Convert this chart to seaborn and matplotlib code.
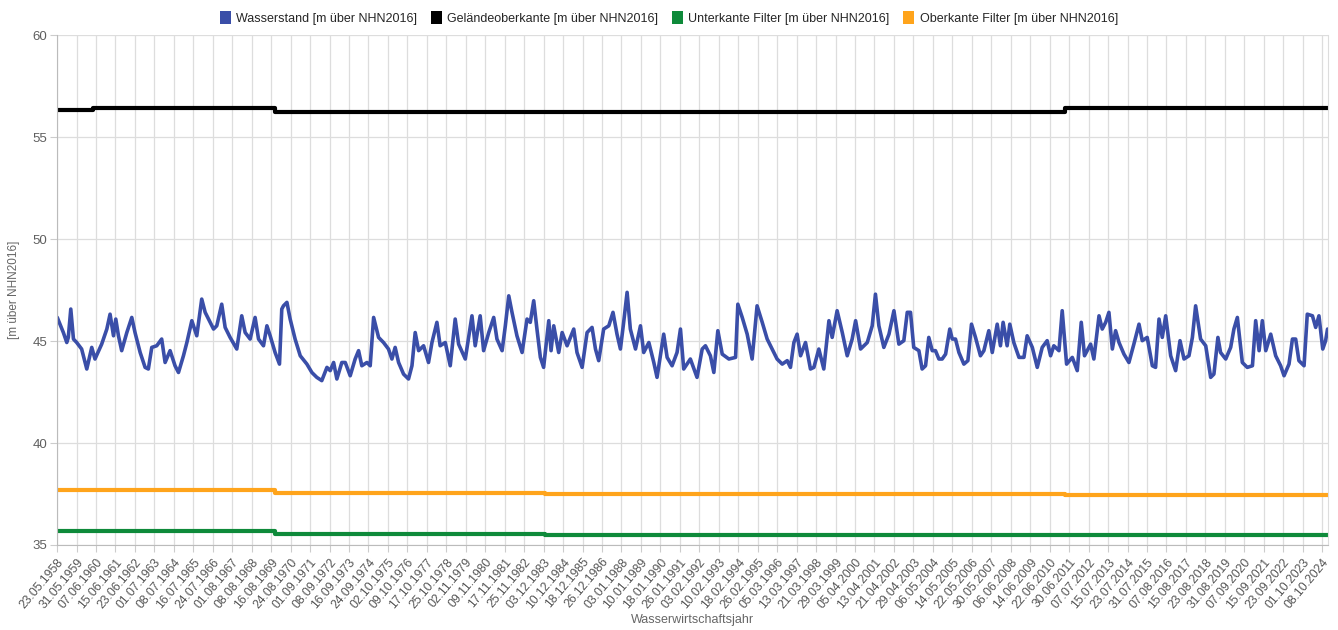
import matplotlib.pyplot as plt
from matplotlib.patches import Patch
import seaborn as sns
import pandas as pd
import numpy as np

# Wasserstand (decimal year, m über NHN2016)
level_years = [
    1958.40, 1958.72, 1958.90, 1958.98, 1959.11, 1959.25, 1959.42, 1959.68, 1959.95, 1960.21,
    1960.38, 1960.73, 1961.00, 1961.17, 1961.35, 1961.47, 1961.61, 1961.78, 1962.05, 1962.31,
    1962.48, 1962.75, 1963.01, 1963.18, 1963.36, 1963.62, 1963.88, 1964.06, 1964.32, 1964.58,
    1964.76, 1965.02, 1965.20, 1965.46, 1965.72, 1965.98, 1966.16, 1966.42, 1966.60, 1966.77,
    1967.03, 1967.21, 1967.47, 1967.82, 1968.08, 1968.26, 1968.52, 1968.78, 1968.96, 1969.22,
    1969.40, 1969.57, 1969.83, 1970.06, 1970.18, 1970.27, 1970.45, 1970.62, 1970.88, 1971.15,
    1971.50, 1971.76, 1972.02, 1972.28, 1972.55, 1972.72, 1972.90, 1973.07, 1973.33, 1973.51,
    1973.77, 1974.03, 1974.21, 1974.38, 1974.65, 1974.82, 1975.00, 1975.26, 1975.52, 1975.78,
    1975.96, 1976.13, 1976.31, 1976.57, 1976.83, 1977.01, 1977.18, 1977.36, 1977.62, 1977.88,
    1978.06, 1978.32, 1978.49, 1978.76, 1979.02, 1979.28, 1979.46, 1979.81, 1980.16, 1980.33,
    1980.59, 1980.77, 1981.04, 1981.30, 1981.47, 1981.74, 1981.91, 1982.09, 1982.26, 1982.52,
    1982.79, 1983.05, 1983.22, 1983.40, 1983.57, 1983.75, 1983.92, 1984.19, 1984.31, 1984.45,
    1984.71, 1984.89, 1985.15, 1985.50, 1985.67, 1985.94, 1986.20, 1986.46, 1986.64, 1986.81,
    1987.07, 1987.34, 1987.56, 1987.77, 1987.95, 1988.12, 1988.30, 1988.47, 1988.74, 1989.00,
    1989.17, 1989.44, 1989.70, 1989.87, 1990.22, 1990.40, 1990.66, 1990.92, 1991.10, 1991.27,
    1991.62, 1991.97, 1992.24, 1992.41, 1992.67, 1992.85, 1993.06, 1993.29, 1993.64, 1993.99,
    1994.11, 1994.34, 1994.60, 1994.86, 1995.12, 1995.39, 1995.65, 1995.91, 1996.17, 1996.44,
    1996.70, 1996.87, 1997.05, 1997.22, 1997.40, 1997.66, 1997.92, 1998.10, 1998.36, 1998.62,
    1998.89, 1999.06, 1999.32, 1999.59, 1999.85, 2000.11, 2000.29, 2000.55, 2000.90, 2001.16,
    2001.33, 2001.51, 2001.77, 2002.04, 2002.30, 2002.56, 2002.82, 2003.00, 2003.17, 2003.34,
    2003.61, 2003.78, 2003.96, 2004.13, 2004.31, 2004.48, 2004.66, 2004.83, 2005.01, 2005.23,
    2005.36, 2005.53, 2005.71, 2005.97, 2006.18, 2006.37, 2006.58, 2006.84, 2007.02, 2007.28,
    2007.46, 2007.72, 2007.89, 2008.03, 2008.24, 2008.38, 2008.59, 2008.86, 2009.12, 2009.29,
    2009.56, 2009.82, 2010.08, 2010.34, 2010.52, 2010.69, 2010.96, 2011.13, 2011.36, 2011.66,
    2011.92, 2012.13, 2012.30, 2012.62, 2012.79, 2013.06, 2013.23, 2013.41, 2013.58, 2013.76,
    2013.93, 2014.11, 2014.37, 2014.63, 2014.89, 2015.16, 2015.33, 2015.59, 2015.86, 2016.03,
    2016.21, 2016.38, 2016.56, 2016.82, 2017.08, 2017.31, 2017.52, 2017.78, 2017.96, 2018.13,
    2018.39, 2018.66, 2018.92, 2019.09, 2019.30, 2019.44, 2019.71, 2019.97, 2020.14, 2020.32,
    2020.58, 2020.84, 2021.11, 2021.28, 2021.46, 2021.63, 2021.81, 2022.07, 2022.33, 2022.59,
    2022.77, 2023.03, 2023.21, 2023.38, 2023.55, 2023.82, 2023.99, 2024.26, 2024.43, 2024.60,
    2024.80, 2024.95, 2025.05,
]
level_values = [
    46.16, 45.42, 44.93, 45.18, 46.57, 45.10, 44.93, 44.61, 43.63, 44.69,
    44.12, 44.85, 45.59, 46.32, 45.26, 46.08, 45.26, 44.53, 45.42, 46.16,
    45.42, 44.44, 43.71, 43.63, 44.69, 44.77, 45.10, 43.95, 44.53, 43.79,
    43.46, 44.28, 44.93, 46.00, 45.26, 47.06, 46.41, 45.92, 45.59, 45.75,
    46.81, 45.67, 45.18, 44.61, 46.24, 45.42, 45.10, 46.16, 45.10, 44.77,
    45.75, 45.26, 44.44, 43.87, 46.57, 46.73, 46.90, 46.08, 45.10, 44.28,
    43.87, 43.46, 43.22, 43.06, 43.71, 43.55, 43.95, 43.14, 43.95, 43.95,
    43.30, 44.12, 44.53, 43.79, 43.95, 43.79, 46.16, 45.18, 44.93, 44.61,
    44.12, 44.69, 43.95, 43.38, 43.14, 43.79, 45.42, 44.53, 44.77, 43.95,
    44.93, 45.92, 44.77, 44.93, 43.79, 46.08, 44.85, 44.12, 46.24, 44.77,
    46.24, 44.53, 45.42, 46.16, 45.10, 44.53, 45.75, 47.22, 46.41, 45.26,
    44.44, 46.08, 45.92, 46.98, 45.59, 44.20, 43.71, 46.00, 44.53, 45.75,
    44.44, 45.42, 44.77, 45.59, 44.44, 43.71, 45.42, 45.67, 44.61, 44.04,
    45.59, 45.75, 46.41, 45.34, 44.61, 45.92, 47.39, 45.59, 44.61, 45.75,
    44.44, 44.93, 43.95, 43.22, 45.34, 44.20, 43.79, 44.44, 45.59, 43.63,
    44.12, 43.22, 44.61, 44.77, 44.28, 43.46, 45.51, 44.36, 44.12, 44.20,
    46.81, 46.16, 45.34, 44.12, 46.73, 45.92, 45.10, 44.61, 44.12, 43.87,
    44.04, 43.71, 44.93, 45.34, 44.28, 44.93, 43.63, 43.71, 44.61, 43.63,
    46.00, 45.18, 46.49, 45.42, 44.28, 45.10, 46.00, 44.61, 44.93, 45.75,
    47.30, 45.75, 44.69, 45.34, 46.49, 44.85, 45.02, 46.41, 46.41, 44.69,
    44.53, 43.63, 43.79, 45.18, 44.53, 44.53, 44.12, 44.12, 44.36, 45.59,
    45.10, 45.10, 44.44, 43.87, 44.04, 45.83, 45.18, 44.28, 44.53, 45.51,
    44.44, 45.83, 44.77, 45.92, 44.77, 45.83, 44.93, 44.20, 44.20, 45.26,
    44.69, 43.71, 44.69, 45.02, 44.28, 44.77, 44.53, 46.49, 43.87, 44.20,
    43.55, 45.92, 44.28, 44.85, 44.12, 46.24, 45.59, 45.92, 46.41, 44.61,
    45.51, 44.93, 44.36, 43.95, 44.85, 45.83, 45.02, 45.18, 43.79, 43.71,
    46.08, 45.18, 46.24, 44.28, 43.55, 45.02, 44.12, 44.28, 45.18, 46.73,
    45.10, 44.77, 43.22, 43.38, 45.18, 44.44, 44.12, 44.69, 45.59, 46.16,
    43.95, 43.71, 43.79, 46.00, 44.53, 46.00, 44.53, 45.34, 44.28, 43.79,
    43.30, 43.87, 45.10, 45.10, 44.04, 43.79, 46.32, 46.24, 45.67, 46.24,
    44.61, 45.02, 45.59,
]

# Step series: year the value starts, and its level
step_years = [1958.38, 1960.28, 1969.83, 1983.99, 2011.30, 2025.08]
gok_values = [56.32, 56.42, 56.23, 56.25, 56.42, 56.42]
ok_filter_values = [37.70, 37.70, 37.55, 37.50, 37.46, 37.46]
uk_filter_values = [35.69, 35.69, 35.52, 35.50, 35.47, 35.47]

tick_labels = [
    "23.05.1958", "31.05.1959", "07.06.1960", "15.06.1961", "23.06.1962", "01.07.1963",
    "08.07.1964", "16.07.1965", "24.07.1966", "01.08.1967", "08.08.1968", "16.08.1969",
    "24.08.1970", "01.09.1971", "08.09.1972", "16.09.1973", "24.09.1974", "02.10.1975",
    "09.10.1976", "17.10.1977", "25.10.1978", "02.11.1979", "09.11.1980", "17.11.1981",
    "25.11.1982", "03.12.1983", "10.12.1984", "18.12.1985", "26.12.1986", "03.01.1988",
    "10.01.1989", "18.01.1990", "26.01.1991", "03.02.1992", "10.02.1993", "18.02.1994",
    "26.02.1995", "05.03.1996", "13.03.1997", "21.03.1998", "29.03.1999", "05.04.2000",
    "13.04.2001", "21.04.2002", "29.04.2003", "06.05.2004", "14.05.2005", "22.05.2006",
    "30.05.2007", "06.06.2008", "14.06.2009", "22.06.2010", "30.06.2011", "07.07.2012",
    "15.07.2013", "23.07.2014", "31.07.2015", "07.08.2016", "15.08.2017", "23.08.2018",
    "31.08.2019", "07.09.2020", "15.09.2021", "23.09.2022", "01.10.2023", "08.10.2024",
]

series_names = [
    "Wasserstand [m über NHN2016]",
    "Geländeoberkante [m über NHN2016]",
    "Unterkante Filter [m über NHN2016]",
    "Oberkante Filter [m über NHN2016]",
]
series_colors = ["#3a4ea8", "#000000", "#0e8a3a", "#ffa41b"]


def year_to_date(y):
    year = int(y)
    start = pd.Timestamp(year, 1, 1)
    end = pd.Timestamp(year + 1, 1, 1)
    return start + (end - start) * (y - year)


level_df = pd.DataFrame({
    "date": [year_to_date(y) for y in level_years],
    "value": level_values,
})
step_dates = [year_to_date(y) for y in step_years]
tick_dates = pd.to_datetime(tick_labels, format="%d.%m.%Y")

sns.set_style("white")
plt.rcParams["font.family"] = ["Liberation Sans", "DejaVu Sans"]

fig = plt.figure(figsize=(13.38, 6.3), dpi=100)
ax = fig.add_axes([0.0426, 0.135, 0.95, 0.809])

# Filter and ground level lines (steps)
for vals, color in [(gok_values, series_colors[1]),
                    (uk_filter_values, series_colors[2]),
                    (ok_filter_values, series_colors[3])]:
    step_df = pd.DataFrame({"date": step_dates, "value": vals})
    sns.lineplot(data=step_df, x="date", y="value", ax=ax, color=color,
                 linewidth=3.0, drawstyle="steps-post", estimator=None)

sns.lineplot(data=level_df, x="date", y="value", ax=ax, color=series_colors[0],
             linewidth=2.6, estimator=None, sort=False)

ax.set_xticks(tick_dates)
ax.set_xticklabels(tick_labels, rotation=50, ha="right", rotation_mode="anchor",
                   fontsize=8.8)
ax.set_xlim(tick_dates[0] - pd.Timedelta(days=1), year_to_date(2025.08))
ax.set_ylim(35, 60)
ax.set_yticks([35, 40, 45, 50, 55, 60])
ax.tick_params(axis="y", labelsize=9.5, colors="#cccccc", labelcolor="#5f5f5f",
               length=5, width=0.8, left=True, pad=2)
ax.tick_params(axis="x", length=5, width=0.8, colors="#cccccc", labelcolor="#555555",
               bottom=True, pad=3)

ax.grid(True, color="#dddddd", linewidth=0.9)
ax.set_axisbelow(True)
ax.spines["top"].set_visible(False)
ax.spines["right"].set_color("#dddddd")
ax.spines["left"].set_color("#bbbbbb")
ax.spines["bottom"].set_color("#bbbbbb")

ax.set_xlabel("Wasserwirtschaftsjahr", fontsize=9, color="#666666", labelpad=2)
ax.set_ylabel("[m über NHN2016]", fontsize=8.5, color="#666666")
ax.yaxis.set_label_coords(-0.029, 0.5)

handles = [Patch(facecolor=c, edgecolor="none") for c in series_colors]
fig.legend(handles, series_names, loc="upper center", bbox_to_anchor=(0.5, 1.0),
           ncol=4, frameon=False, fontsize=9, handlelength=0.85, handleheight=1.15,
           handletextpad=0.45, columnspacing=1.1, borderaxespad=0.5)

fig.savefig("out.png", dpi=100)
